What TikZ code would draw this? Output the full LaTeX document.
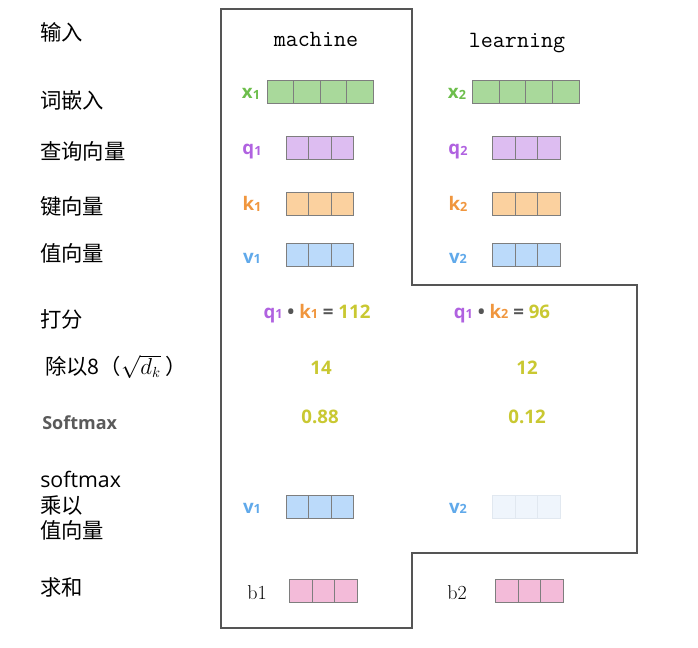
\documentclass[tikz,border=0pt]{standalone}
\usepackage{fontspec}
\newfontfamily\cjk{Noto Sans CJK SC}
\newfontfamily\lbl{Open Sans}
\definecolor{edgegray}{HTML}{555555}
\definecolor{cellgray}{HTML}{7E7E7E}
\definecolor{xfill}{HTML}{A9D99B}
\definecolor{qfill}{HTML}{DDBDF1}
\definecolor{kfill}{HTML}{FBD19F}
\definecolor{vfill}{HTML}{BBDAFA}
\definecolor{bfill}{HTML}{F3BBD9}
\definecolor{fadefill}{HTML}{EFF5FC}
\definecolor{fadeedge}{HTML}{E1E8F0}
\definecolor{xcol}{HTML}{6DBE4C}
\definecolor{qcol}{HTML}{B062E0}
\definecolor{kcol}{HTML}{F0963E}
\definecolor{vcol}{HTML}{60A9EA}
\definecolor{numcol}{HTML}{C9C832}
\definecolor{dotcol}{HTML}{555555}
\definecolor{smgray}{HTML}{5A5A5A}
\tikzset{
  cell/.style={draw=cellgray, line width=0.6pt},
  rowlbl/.style={font=\cjk\fontsize{16}{20}\selectfont, anchor=west, inner sep=0pt},
  tag/.style={font=\lbl\bfseries\fontsize{14}{16}\selectfont, anchor=base, inner sep=0pt},
  word/.style={font=\ttfamily\fontsize{17.5}{20}\selectfont, anchor=base, inner sep=0pt},
  sumlbl/.style={font=\fontsize{15}{17}\selectfont, anchor=base, inner sep=0pt}
}
% #1 left x, #2 top y, #3 cells, #4 cell width, #5 fill
\newcommand{\cellrow}[5]{%
  \foreach \i in {1,...,#3}{\draw[cell, fill=#5] ({#1+(\i-1)*#4},#2) rectangle ++(#4,23);}}
\newcommand{\sub}[1]{\raisebox{-0.6pt}{\fontsize{9.5}{10}\selectfont #1}}
\begin{document}
\begin{tikzpicture}[x=0.75pt, y=-0.75pt]
  \useasboundingbox (0,0) rectangle (698,648);
  % outline
  \draw[edgegray, line width=1.1pt] (221,9) -- (412,9) -- (412,285) -- (637,285) -- (637,553)
    -- (412,553) -- (412,628) -- (221,628) -- cycle;
  % row labels
  \node[rowlbl] (in)  at (40,32)  {输入};
  \node[rowlbl] (emb) at (40,100) {词嵌入};
  \node[rowlbl] (qry) at (40,151) {查询向量};
  \node[rowlbl] (key) at (40,206) {键向量};
  \node[rowlbl] (val) at (40,253) {值向量};
  \node[rowlbl] (score) at (40,319) {打分};
  \node[rowlbl] (div) at (45,367) {除以8（$\sqrt{d_k}$ ）};
  \node[rowlbl, font=\lbl\bfseries\fontsize{13.5}{16}\selectfont\color{smgray}] (smx) at (42,423) {Softmax};
  \node[rowlbl, align=left, font=\cjk\fontsize{16}{19.2}\selectfont] (mul) at (40,506)
    {{\lbl softmax}\\乘以\\值向量};
  \node[rowlbl] (sum) at (40,587) {求和};
  % words
  \node[word] (w1) at (316,46.5) {machine};
  \node[word] (w2) at (517,48)   {learning};
  % embeddings
  \node[tag, text=xcol] (x1) at (251,99) {x\sub{1}};
  \node[tag, text=xcol] (x2) at (457,99) {x\sub{2}};
  \cellrow{267}{80}{4}{26.6}{xfill}
  \cellrow{472.5}{80}{4}{26.6}{xfill}
  % queries
  \node[tag, text=qcol] (q1) at (252,155) {q\sub{1}};
  \node[tag, text=qcol] (q2) at (458,155) {q\sub{2}};
  \cellrow{286}{136.3}{3}{22.6}{qfill}
  \cellrow{492.3}{136.3}{3}{22.6}{qfill}
  % keys
  \node[tag, text=kcol] (k1) at (252,211) {k\sub{1}};
  \node[tag, text=kcol] (k2) at (458,211) {k\sub{2}};
  \cellrow{286}{192}{3}{22.6}{kfill}
  \cellrow{492.3}{192}{3}{22.6}{kfill}
  % values
  \node[tag, text=vcol] (v1) at (252,263) {v\sub{1}};
  \node[tag, text=vcol] (v2) at (458,263) {v\sub{2}};
  \cellrow{286}{243}{3}{22.6}{vfill}
  \cellrow{492.3}{243}{3}{22.6}{vfill}
  % scores
  \node[tag] (s1) at (317,318) {\textcolor{qcol}{q\sub{1}} \textcolor{dotcol}{•} \textcolor{kcol}{k\sub{1}} \textcolor{dotcol}{=} \textcolor{numcol}{112}};
  \node[tag] (s2) at (502,318) {\textcolor{qcol}{q\sub{1}} \textcolor{dotcol}{•} \textcolor{kcol}{k\sub{2}} \textcolor{dotcol}{=} \textcolor{numcol}{96}};
  \node[tag, text=numcol] (d1) at (321,374) {14};
  \node[tag, text=numcol] (d2) at (527,374) {12};
  \node[tag, text=numcol] (p1) at (320,423) {0.88};
  \node[tag, text=numcol] (p2) at (527,423) {0.12};
  % weighted values
  \node[tag, text=vcol] (wv1) at (252,513) {v\sub{1}};
  \node[tag, text=vcol] (wv2) at (458,513) {v\sub{2}};
  \cellrow{286}{495}{3}{22.6}{vfill}
  \foreach \i in {1,2,3}{\draw[draw=fadeedge, line width=0.6pt, fill=fadefill] ({492.3+(\i-1)*22.6},495) rectangle ++(22.6,23);}
  % sums
  \node[sumlbl] (b1) at (257,599) {b1};
  \node[sumlbl] (b2) at (457,599) {b2};
  \cellrow{289.5}{579.5}{3}{22.5}{bfill}
  \cellrow{495.5}{579.5}{3}{22.5}{bfill}
\end{tikzpicture}
\end{document}
